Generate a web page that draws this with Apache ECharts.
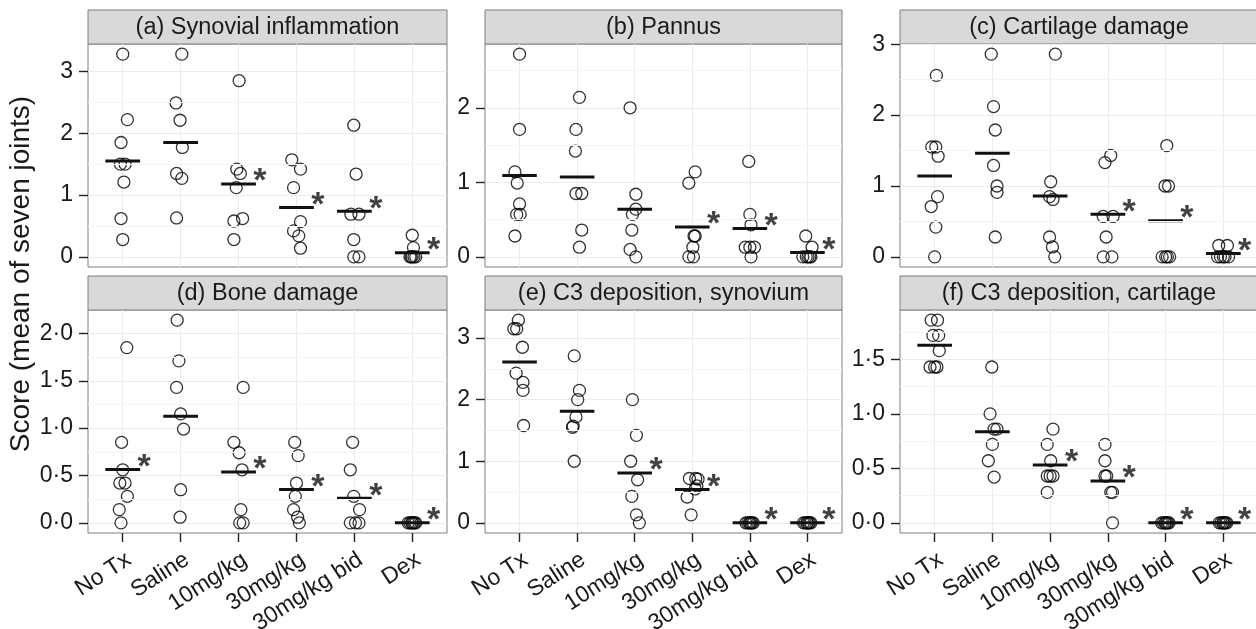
<!DOCTYPE html>
<html><head><meta charset="utf-8">
<script src="https://cdn.jsdelivr.net/npm/echarts@6/dist/echarts.min.js"></script>
<style>html,body{margin:0;padding:0;background:#fff}#c{width:1256px;height:629px}</style>
</head><body><div id="c"></div>
<script>
// ---------- DATA ----------
const categories = ['No Tx', 'Saline', '10mg/kg', '30mg/kg', '30mg/kg bid', 'Dex'];
const panelTitles = ['(a) Synovial inflammation', '(b) Pannus', '(c) Cartilage damage',
  '(d) Bone damage', '(e) C3 deposition, synovium', '(f) C3 deposition, cartilage'];
const yTitle = 'Score (mean of seven joints)';

// (a) Synovial inflammation
const aValues = [
  [3.28, 2.22, 1.85, 1.50, 1.50, 1.21, 0.62, 0.28],
  [3.28, 2.49, 2.21, 1.77, 1.35, 1.27, 0.63],
  [2.85, 1.42, 1.35, 1.12, 0.62, 0.58, 0.28],
  [1.57, 1.42, 1.12, 0.57, 0.42, 0.34, 0.14],
  [2.13, 1.34, 0.69, 0.69, 0.28, 0, 0],
  [0.35, 0.15, 0, 0, 0, 0, 0]
];
const aJitter = [
  [0, 0.08, -0.03, -0.04, 0.04, 0.02, -0.03, 0],
  [0.02, -0.08, -0.01, 0.03, -0.07, 0.02, -0.07],
  [0.01, -0.03, 0.03, -0.04, 0.07, -0.08, -0.08],
  [-0.08, 0.07, -0.05, 0.07, -0.05, 0.04, 0.07],
  [-0.01, 0.03, -0.06, 0.08, -0.01, -0.01, 0.08],
  [0, 0.02, -0.04, 0.0, 0.06, -0.02, 0.03]
];
const aMeans = [1.55, 1.85, 1.18, 0.80, 0.74, 0.065];
const aStars = [0, 0, 1, 1, 1, 1];
const aTicks = [0, 1, 2, 3];
const aTickLabels = ['0', '1', '2', '3'];

// (b) Pannus
const bValues = [
  [2.72, 1.71, 1.14, 0.99, 0.71, 0.57, 0.57, 0.28],
  [2.14, 1.71, 1.42, 0.85, 0.85, 0.36, 0.13],
  [2.0, 0.84, 0.64, 0.57, 0.36, 0.10, 0],
  [1.14, 0.99, 0.28, 0.28, 0.13, 0, 0],
  [1.28, 0.57, 0.43, 0.13, 0.13, 0.13, 0],
  [0.28, 0.13, 0, 0, 0, 0, 0]
];
const bJitter = [
  [0, 0, -0.08, -0.04, 0, -0.05, 0.01, -0.08],
  [0.04, -0.02, -0.03, -0.02, 0.08, 0.08, 0.04],
  [-0.08, 0.02, 0.02, -0.04, -0.05, -0.08, 0.02],
  [0.05, -0.06, 0.05, 0.03, 0.01, -0.06, 0.02],
  [-0.02, 0, 0.02, -0.08, 0, 0.08, 0.02],
  [-0.03, 0.08, -0.08, -0.02, 0.04, 0.01, 0.06]
];
const bMeans = [1.09, 1.07, 0.64, 0.40, 0.38, 0.058];
const bStars = [0, 0, 0, 1, 1, 1];
const bTicks = [0, 1, 2];
const bTickLabels = ['0', '1', '2'];

// (c) Cartilage damage
const cValues = [
  [2.56, 1.55, 1.55, 1.42, 0.85, 0.71, 0.42, 0],
  [2.86, 2.12, 1.79, 1.29, 1.0, 0.91, 0.28],
  [2.86, 1.06, 0.85, 0.81, 0.28, 0.14, 0],
  [1.43, 1.33, 0.57, 0.57, 0.28, 0, 0],
  [1.57, 1.0, 1.0, 0, 0, 0, 0],
  [0.16, 0.16, 0, 0, 0, 0, 0]
];
const cJitter = [
  [0.03, -0.05, 0.02, 0.06, 0.05, -0.06, 0.02, 0],
  [-0.02, 0.02, 0.05, 0.02, 0.08, 0.08, 0.05],
  [0.09, 0.01, -0.01, 0.05, -0.01, 0.04, 0.08],
  [0.05, -0.05, -0.08, 0.09, -0.03, -0.08, 0.07],
  [0.02, -0.01, 0.05, -0.06, 0, 0.07, 0.03],
  [-0.08, 0.07, -0.1, -0.05, 0.03, 0.09, 0.0]
];
const cMeans = [1.14, 1.46, 0.86, 0.60, 0.51, 0.047];
const cStars = [0, 0, 0, 1, 1, 1];
const cTicks = [0, 1, 2, 3];
const cTickLabels = ['0', '1', '2', '3'];

// (d) Bone damage
const dValues = [
  [1.85, 0.85, 0.56, 0.42, 0.42, 0.28, 0.14, 0],
  [2.14, 1.71, 1.43, 1.15, 0.99, 0.35, 0.06],
  [1.43, 0.85, 0.74, 0.56, 0.14, 0, 0],
  [0.85, 0.71, 0.42, 0.28, 0.14, 0.06, 0],
  [0.85, 0.56, 0.28, 0.14, 0, 0, 0],
  [0, 0, 0, 0, 0, 0, 0]
];
const dJitter = [
  [0.07, -0.02, 0, -0.05, 0.04, 0.08, -0.06, -0.03],
  [-0.06, -0.03, -0.07, 0, 0.05, 0, -0.01],
  [0.08, -0.08, 0.01, 0.06, 0.04, 0.02, 0.08],
  [-0.03, 0.03, 0, -0.02, -0.05, 0.02, 0.05],
  [-0.03, -0.07, -0.01, 0.09, -0.07, 0.02, 0.08],
  [-0.07, -0.04, -0.01, 0.02, 0.04, 0.06, 0.0]
];
const dMeans = [0.564, 1.125, 0.536, 0.353, 0.26, 0];
const dStars = [1, 0, 1, 1, 1, 1];
const dTicks = [0, 0.5, 1, 1.5, 2];
const dTickLabels = ['0·0', '0·5', '1·0', '1·5', '2·0'];

// (e) C3 deposition, synovium
const eValues = [
  [3.29, 3.15, 3.15, 2.85, 2.43, 2.28, 2.15, 1.58],
  [2.71, 2.15, 2.0, 1.72, 1.57, 1.55, 1.0],
  [2.0, 1.42, 1.0, 0.70, 0.43, 0.13, 0],
  [0.72, 0.72, 0.71, 0.6, 0.55, 0.42, 0.13],
  [0, 0, 0, 0, 0, 0, 0],
  [0, 0, 0, 0, 0, 0, 0]
];
const eJitter = [
  [-0.02, -0.1, -0.05, 0.05, -0.06, 0.06, 0.06, 0.07],
  [-0.05, 0.04, 0.01, -0.02, -0.07, -0.08, -0.05],
  [-0.04, 0.03, -0.07, 0.05, -0.05, 0.03, 0.08],
  [-0.05, 0.06, 0.1, 0.08, 0.05, -0.09, -0.02],
  [-0.07, -0.04, -0.01, 0.02, 0.04, 0.06, 0],
  [-0.07, -0.04, -0.01, 0.02, 0.04, 0.06, 0]
];
const eMeans = [2.61, 1.81, 0.81, 0.54, 0, 0];
const eStars = [0, 0, 1, 1, 1, 1];
const eTicks = [0, 1, 2, 3];
const eTickLabels = ['0', '1', '2', '3'];

// (f) C3 deposition, cartilage
const fValues = [
  [1.86, 1.86, 1.72, 1.72, 1.58, 1.43, 1.43, 1.43],
  [1.43, 1.0, 0.86, 0.86, 0.72, 0.57, 0.42],
  [0.86, 0.72, 0.57, 0.43, 0.43, 0.43, 0.28],
  [0.72, 0.57, 0.43, 0.43, 0.28, 0.28, 0],
  [0, 0, 0, 0, 0, 0, 0],
  [0, 0, 0, 0, 0, 0, 0]
];
const fJitter = [
  [-0.06, 0.05, -0.03, 0.07, 0.08, -0.08, 0, 0.04],
  [-0.01, -0.04, 0.03, 0.08, 0, -0.07, 0.03],
  [0.05, -0.05, 0.01, -0.05, 0.05, 0, -0.05],
  [-0.05, -0.05, -0.05, -0.02, 0.05, 0.08, 0.08],
  [-0.07, -0.04, -0.01, 0.02, 0.04, 0.06, 0],
  [-0.07, -0.04, -0.01, 0.02, 0.04, 0.06, 0]
];
const fMeans = [1.63, 0.837, 0.53, 0.383, 0, 0];
const fStars = [0, 0, 1, 1, 1, 1];
const fTicks = [0, 0.5, 1, 1.5];
const fTickLabels = ['0·0', '0·5', '1·0', '1·5'];

// ---------- BUILD ----------
const FONT = '"Liberation Sans", Arial, Helvetica, sans-serif';
const TXT = '#1a1a1a';
const panels = [
  { values: aValues, jitter: aJitter, means: aMeans, stars: aStars, ticks: aTicks, labels: aTickLabels },
  { values: bValues, jitter: bJitter, means: bMeans, stars: bStars, ticks: bTicks, labels: bTickLabels },
  { values: cValues, jitter: cJitter, means: cMeans, stars: cStars, ticks: cTicks, labels: cTickLabels },
  { values: dValues, jitter: dJitter, means: dMeans, stars: dStars, ticks: dTicks, labels: dTickLabels },
  { values: eValues, jitter: eJitter, means: eMeans, stars: eStars, ticks: eTicks, labels: eTickLabels },
  { values: fValues, jitter: fJitter, means: fMeans, stars: fStars, ticks: fTicks, labels: fTickLabels }
];
const colLeft = [88, 485, 900];
const colWidth = [359, 357, 358];
const rowTop = [44, 310];
const rowHeight = [223, 223];
const stripH = 34;
const catIdx = categories.map((_, i) => i);

const grids = [], xAxes = [], yAxes = [], series = [], graphics = [];
panels.forEach((p, k) => {
  const col = k % 3, row = Math.floor(k / 3);
  const bottom = row === 1;
  const g = { left: colLeft[col], top: rowTop[row], width: colWidth[col], height: rowHeight[row] };
  grids.push(Object.assign({ show: true, borderColor: '#7f7f7f', borderWidth: 1, backgroundColor: '#fff', containLabel: false, outerBoundsMode: 'none' }, g));
  const vmax = Math.max(...p.values.flat());
  const ymin = -0.05 * vmax, ymax = 1.05 * vmax;
  xAxes.push({
    type: 'value', gridIndex: k, min: -0.6, max: 5.6, position: 'bottom',
    axisLine: { show: false, onZero: false },
    axisTick: { show: bottom, customValues: catIdx, length: 9, lineStyle: { color: '#222', width: 1.4 } },
    axisLabel: {
      show: bottom, customValues: catIdx, formatter: v => categories[Math.round(v)],
      rotate: 33, fontSize: 23, color: TXT, fontFamily: FONT, margin: 15,
      align: 'right', verticalAlign: 'top'
    },
    splitLine: { show: true, lineStyle: { color: '#EBEBEB', width: 1 } }
  });
  yAxes.push({
    type: 'value', gridIndex: k, min: ymin, max: ymax, position: 'left',
    axisLine: { show: false, onZero: false },
    axisTick: { show: true, customValues: p.ticks, length: 9, lineStyle: { color: '#222', width: 1.4 } },
    axisLabel: {
      customValues: p.ticks, fontSize: 23, color: TXT, fontFamily: FONT, margin: 15,
      formatter: v => { const i = p.ticks.findIndex(t => Math.abs(t - v) < 1e-6); return i >= 0 ? p.labels[i] : ''; }
    },
    splitLine: { show: true, lineStyle: { color: '#EBEBEB', width: 1 } }
  });
  // minor gridlines midway between ticks
  const step = p.ticks[1] - p.ticks[0];
  const minors = [];
  for (let v = p.ticks[0] + step / 2; v < ymax; v += step) minors.push(v);
  series.push({
    type: 'line', xAxisIndex: k, yAxisIndex: k, data: [], z: 1, silent: true,
    markLine: {
      silent: true, symbol: ['none', 'none'], label: { show: false },
      lineStyle: { color: '#F5F5F5', width: 1, type: 'solid' },
      data: minors.map(v => ({ yAxis: v }))
    }
  });
  // points
  const pts = [];
  p.values.forEach((arr, gi) => arr.forEach((v, j) => pts.push([gi + p.jitter[gi][j], v])));
  series.push({
    type: 'scatter', xAxisIndex: k, yAxisIndex: k, data: pts, z: 3,
    symbol: 'circle', symbolSize: 12,
    itemStyle: { color: 'rgba(255,255,255,0)', borderColor: '#000', borderWidth: 1.3 },
    emphasis: { disabled: true }, silent: true
  });
  // mean lines
  series.push({
    type: 'custom', xAxisIndex: k, yAxisIndex: k, z: 4, silent: true,
    data: p.means.map((m, gi) => [gi, m]),
    renderItem: (params, api) => {
      const x = api.value(0), y = api.value(1);
      const a = api.coord([x - 0.3, y]), b = api.coord([x + 0.3, y]);
      return { type: 'line', shape: { x1: a[0], y1: a[1], x2: b[0], y2: b[1] }, style: { stroke: '#111', lineWidth: 3 } };
    }
  });
  // stars
  series.push({
    type: 'scatter', xAxisIndex: k, yAxisIndex: k, z: 5, silent: true,
    data: p.means.map((m, gi) => [gi + 0.37, m]).filter((_, gi) => p.stars[gi]),
    symbol: 'circle', symbolSize: 1, itemStyle: { color: 'rgba(0,0,0,0)' },
    label: { show: true, position: 'inside', formatter: '*', fontSize: 34, fontWeight: 'bold', color: '#111', fontFamily: FONT, offset: [0, -2] }
  });
  // strip
  graphics.push({
    type: 'rect', shape: { x: g.left, y: g.top - stripH, width: g.width, height: stripH },
    style: { fill: '#D9D9D9', stroke: '#7f7f7f', lineWidth: 1 }
  });
  graphics.push({
    type: 'text', x: g.left + g.width / 2, y: g.top - stripH / 2 + 1,
    style: { text: panelTitles[k], font: `23.5px ${FONT}`, fill: TXT, align: 'center', verticalAlign: 'middle' }
  });
});
graphics.push({
  type: 'text', x: 21, y: 274, rotation: Math.PI / 2,
  style: { text: yTitle, font: `28px ${FONT}`, fill: TXT, align: 'center', verticalAlign: 'middle' }
});

const chart = echarts.init(document.getElementById('c'), null, { renderer: 'canvas' });
chart.setOption({
  animation: false,
  backgroundColor: '#fff',
  grid: grids, xAxis: xAxes, yAxis: yAxes, series: series,
  graphic: { elements: graphics }
});
</script></body></html>
